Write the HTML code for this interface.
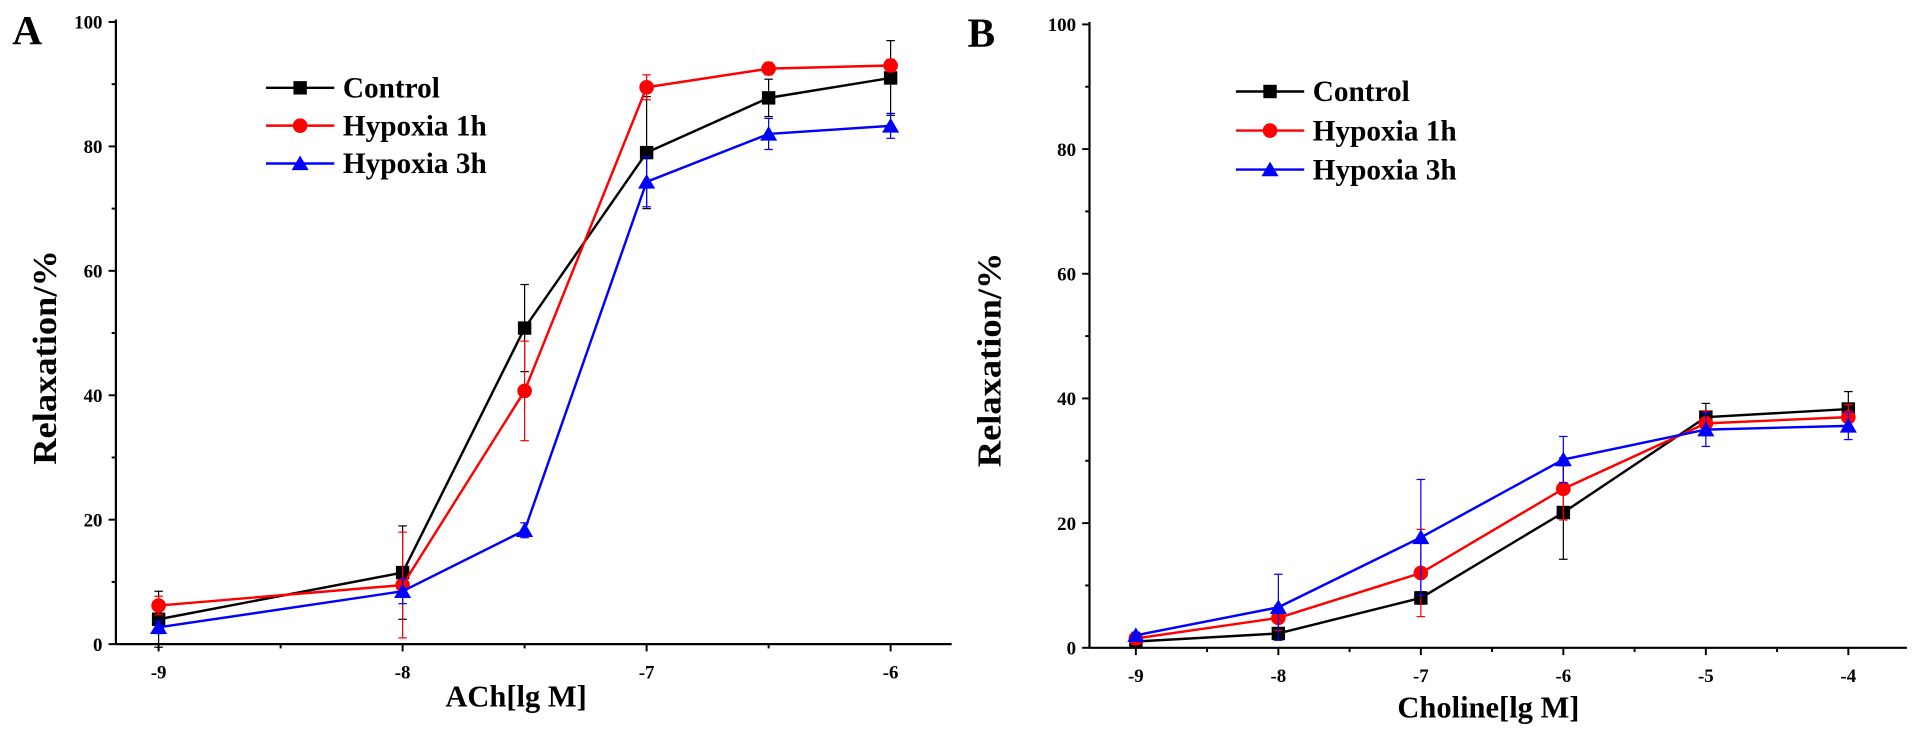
<!DOCTYPE html>
<html><head><meta charset="utf-8"><style>
body{margin:0;background:#fff;width:1913px;height:741px;overflow:hidden}
svg{font-family:"Liberation Serif",serif;font-weight:bold;display:block}
</style></head><body>
<svg id="chart" width="1913" height="741" viewBox="0 0 1568 607.4" preserveAspectRatio="none" xmlns="http://www.w3.org/2000/svg"></svg>
<script>
const NS="http://www.w3.org/2000/svg";
const svg=document.getElementById('chart');
const seriesNames=["Control","Hypoxia 1h","Hypoxia 3h"];
const colors=["#000000","#ff0000","#0000ff"];
const aX=[-9,-8,-7.5,-7,-6.5,-6];
const aControl=[4,11.5,50.8,79,87.8,91];
const aH1=[6.2,9.5,40.7,89.5,92.5,93];
const aH3=[2.7,8.5,18.3,74.3,82,83.3];
const aControlErr=[4.5,7.5,7,9,3,6];
const aH1Err=[1.5,8.5,8,2,1,1];
const aH3Err=[1,2,1.2,4,2.5,2];
const aXTicks=[-9,-8,-7,-6];
const bX=[-9,-8,-7,-6,-5,-4];
const bControl=[1,2.3,8,21.7,37,38.3];
const bH1=[1.5,4.8,12,25.5,36,37];
const bH3=[2,6.5,17.7,30.2,35,35.6];
const bControlErr=[0.5,0.8,1,7.5,2.2,2.8];
const bH1Err=[0.5,2,7,5,2,2];
const bH3Err=[0.5,5.3,9.3,3.7,2.7,2.2];
const bXTicks=[-9,-8,-7,-6,-5,-4];
const yTicks=[0,20,40,60,80,100];

function el(tag,attrs,parent,name,text){
  const e=document.createElementNS(NS,tag);
  for(const k in attrs)e.setAttribute(k,attrs[k]);
  
  
  if(text!==undefined)e.textContent=text;
  (parent||svg).appendChild(e);return e;
}
function marker(g,i,x,y,name){
  if(i===0)el('rect',{x:x-5.5,y:y-5.5,width:11,height:11,fill:colors[0]},g,name);
  else if(i===1)el('circle',{cx:x,cy:y,r:6,fill:colors[1]},g,name);
  else el('polygon',{points:`${x},${y-6.5} ${x-7},${y+5.5} ${x+7},${y+5.5}`,fill:colors[2]},g,name);
}
function panel(p){
  const g=el('g',{},svg,p.id);
  const sx=v=>p.x0+(v-p.xmin)*p.xs;
  const sy=v=>p.y0-v*(p.y0-p.y100)/100;
  el('line',{x1:p.ax,y1:p.y100-2,x2:p.ax,y2:p.y0,stroke:'#000','stroke-width':1.8},g,'y-axis');
  el('line',{x1:p.ax,y1:p.y0,x2:p.xend,y2:p.y0,stroke:'#000','stroke-width':1.8},g,'x-axis');
  for(let v=0;v<=100;v+=10){
    const major=v%20===0;
    el('line',{x1:p.ax-(major?6:3.5),y1:sy(v),x2:p.ax,y2:sy(v),stroke:'#000','stroke-width':1.6},g,'y-tick');
  }
  yTicks.forEach(v=>el('text',{x:p.ax-11,y:sy(v)+5.5,'text-anchor':'end','font-size':15.5},g,'y-tick-label',String(v)));
  for(let v=p.xmin;v<=p.xmax+1e-9;v+=0.5){
    const major=Math.abs(v-Math.round(v))<1e-9;
    el('line',{x1:sx(v),y1:p.y0,x2:sx(v),y2:p.y0+(major?6:3.5),stroke:'#000','stroke-width':1.6},g,'x-tick');
  }
  p.ticks.forEach(v=>el('text',{x:sx(v),y:p.y0+28,'text-anchor':'middle','font-size':15.5},g,'x-tick-label',String(v)));
  el('text',{x:p.xtx,y:p.xty,'text-anchor':'middle','font-size':25},g,'x-axis-title',p.xtitle);
  el('text',{x:0,y:0,'text-anchor':'middle','font-size':28,textLength:176,lengthAdjust:'spacingAndGlyphs',transform:`translate(${p.ytx},${p.yty}) rotate(-90)`},g,'y-axis-title','Relaxation/%');
  el('text',{x:p.lx,y:p.ly,'font-size':34},g,'panel-label',p.label);
  p.series.forEach((s,i)=>{
    const sg=el('g',{},g,'series-'+seriesNames[i].toLowerCase().replace(/ /g,'-'));
    s.err.forEach((e,j)=>{
      const x=sx(p.xs_[j]);const y1=sy(s.v[j]+e),y2=sy(s.v[j]-e);
      el('line',{x1:x,y1:y1,x2:x,y2:y2,stroke:colors[i],'stroke-width':1},sg,'error-bar');
      el('line',{x1:x-3.5,y1:y1,x2:x+3.5,y2:y1,stroke:colors[i],'stroke-width':1},sg,'error-cap');
      el('line',{x1:x-3.5,y1:y2,x2:x+3.5,y2:y2,stroke:colors[i],'stroke-width':1},sg,'error-cap');
    });
    el('polyline',{points:s.v.map((v,j)=>sx(p.xs_[j])+','+sy(v)).join(' '),fill:'none',stroke:colors[i],'stroke-width':2},sg,'series-line');
    s.v.forEach((v,j)=>marker(sg,i,sx(p.xs_[j]),sy(v),'data-point'));
  });
  seriesNames.forEach((n,i)=>{
    const lg=el('g',{},g,'legend-entry');
    const y=p.legY+i*p.legDy;
    el('line',{x1:p.legX,y1:y,x2:p.legX+56,y2:y,stroke:colors[i],'stroke-width':2},lg,'legend-line');
    marker(lg,i,p.legX+28,y,'legend-marker');
    el('text',{x:p.legX+63,y:y+8,'font-size':24},lg,'legend-label',n);
  });
}
panel({id:'panel-a',ax:95,x0:130,xmin:-9,xmax:-6,xs:200,xend:780,y0:528,y100:18,ticks:aXTicks,xs_:aX,
  xtitle:'ACh[lg M]',xtx:423,xty:579,ytx:46,yty:293,label:'A',lx:10,ly:36,legX:218,legY:72,legDy:31,
  series:[{v:aControl,err:aControlErr},{v:aH1,err:aH1Err},{v:aH3,err:aH3Err}]});
panel({id:'panel-b',ax:893,x0:931,xmin:-9,xmax:-4,xs:116.8,xend:1563,y0:531,y100:20,ticks:bXTicks,xs_:bX,
  xtitle:'Choline[lg M]',xtx:1220,xty:588,ytx:820,yty:295,label:'B',lx:793,ly:38,legX:1013,legY:75,legDy:32,
  series:[{v:bControl,err:bControlErr},{v:bH1,err:bH1Err},{v:bH3,err:bH3Err}]});
</script>
</body></html>
